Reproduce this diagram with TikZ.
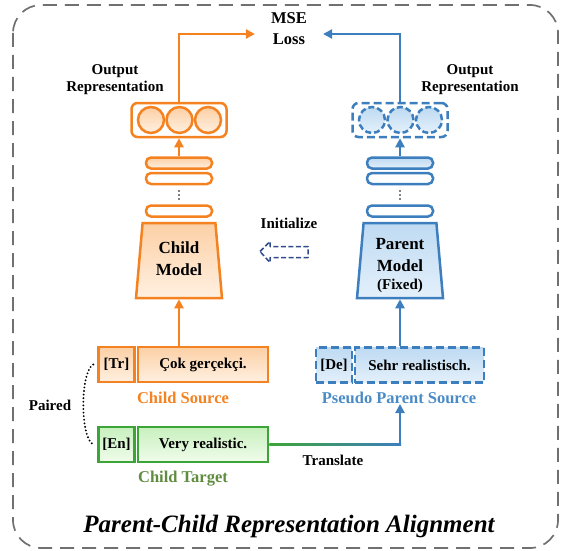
\documentclass[tikz,border=0pt]{standalone}
\usepackage{fontspec}
\setmainfont{Liberation Serif}
\usetikzlibrary{arrows.meta,shapes.geometric,calc}

\definecolor{orgS}{RGB}{245,130,32}
\definecolor{orgD}{RGB}{252,208,165}
\definecolor{orgL}{RGB}{255,240,225}
\definecolor{bluS}{RGB}{60,126,190}
\definecolor{bluD}{RGB}{190,218,242}
\definecolor{bluL}{RGB}{228,240,251}
\definecolor{bluT}{RGB}{74,139,198}
\definecolor{grnS}{RGB}{60,165,55}
\definecolor{grnD}{RGB}{200,240,190}
\definecolor{grnL}{RGB}{240,252,235}
\definecolor{grnT}{RGB}{96,140,64}
\definecolor{initC}{RGB}{47,75,140}
\definecolor{frameC}{RGB}{112,112,112}

\tikzset{
  txt/.style={font=\fontsize{15}{17}\selectfont\bfseries, align=center, inner sep=0pt},
  lbl/.style={font=\fontsize{16.5}{21}\selectfont\bfseries, align=center, inner sep=0pt},
  oline/.style={draw=orgS, line width=2.5pt},
  bline/.style={draw=bluS, line width=2.5pt},
  gline/.style={draw=grnS, line width=2.5pt},
  oarrow/.style={orgS, line width=2.3pt, -{Triangle[length=9pt,width=9pt]}},
  barrow/.style={bluS, line width=2.3pt, -{Triangle[length=9pt,width=9pt]}},
  obar/.style={oline, rounded corners=5pt, minimum width=66pt, minimum height=11pt, inner sep=0pt, fill=white},
  bbar/.style={bline, rounded corners=5pt, minimum width=66pt, minimum height=11pt, inner sep=0pt, fill=white},
  ofill/.style={top color=orgD, bottom color=orgL},
  bfill/.style={top color=bluD, bottom color=bluL},
  gfill/.style={top color=grnD, bottom color=grnL},
  ocirc/.style={circle, oline, ofill, minimum size=26pt, inner sep=0pt},
  bcirc/.style={circle, bline, bfill, dash pattern=on 6pt off 3pt, minimum size=26pt, inner sep=0pt},
  outbox/.style={rounded corners=6pt, minimum width=95pt, minimum height=34pt, inner sep=0pt},
  model/.style={trapezium, trapezium angle=83, trapezium stretches=true,
    minimum width=86pt, minimum height=75pt, inner sep=0pt},
  mtxt/.style={align=center, inner sep=0pt, font=\fontsize{17}{22}\selectfont\bfseries},
  tokbox/.style={minimum height=35pt, inner sep=0pt, font=\fontsize{15}{17}\selectfont\bfseries},
  dsh/.style={dash pattern=on 8pt off 4pt},
  dotmark/.style={circle, fill=black, inner sep=0pt, minimum size=1.7pt},
}

\begin{document}
\begin{tikzpicture}[x=1pt, y=-1pt]
\useasboundingbox (0,0) rectangle (565,551);

% frame
\draw[frameC, line width=1.7pt, dash pattern=on 14pt off 8pt, rounded corners=28pt]
  (13,5) rectangle (558,548);

% loss
\node[lbl, inner xsep=16pt, inner ysep=0pt] (mse) at (289,29) {MSE\\Loss};

% ---- child side ----
\node[txt] (coutlbl) at (115,79.5) {Output\\Representation};
\node[outbox, oline, fill=white] (cout) at (179,120) {};
\node[ocirc] (cc1) at (151,120) {};
\node[ocirc] (cc2) at (179.5,120) {};
\node[ocirc] (cc3) at (208,120) {};
\node[obar, ofill] (cb1) at (179,163) {};
\node[obar] (cb2) at (179,178.5) {};
\node[dotmark] (cd1) at (179,191) {};
\node[dotmark] (cd2) at (179,195) {};
\node[dotmark] (cd3) at (179,199) {};
\node[obar] (cb3) at (179,211) {};
\node[model, oline, ofill] (cm) at (179,260.5) {\phantom{M}};
\node[mtxt] (cmtxt) at (179,259) {Child\\Model};

\node[tokbox, oline, ofill, minimum width=36pt] (tr) at (116.5,364.5) {[Tr]};
\node[tokbox, oline, ofill, minimum width=130pt] (cst) at (203,364.5) {Çok gerçekçi.};
\node[lbl, text=orgS] (cslbl) at (183,398) {Child Source};

\node[tokbox, gline, gfill, minimum width=36pt] (en) at (116.5,444.5) {[En]};
\node[tokbox, gline, gfill, minimum width=130pt] (ctg) at (203,444.5) {Very realistic.};
\node[lbl, text=grnT] (ctlbl) at (183,479) {Child Target};

\node[txt] (paired) at (50,405) {Paired};
\draw[black, line width=2.1pt, dash pattern=on 0pt off 3.6pt, line cap=round]
  ([xshift=-4pt]tr.west) .. controls (80,372) and (80,438) .. ([xshift=-4pt]en.west);

% ---- parent side ----
\node[txt] (poutlbl) at (470,79.5) {Output\\Representation};
\node[outbox, bline, dsh, fill=white] (pout) at (400,120) {};
\node[bcirc] (pc1) at (372,120) {};
\node[bcirc] (pc2) at (400.5,120) {};
\node[bcirc] (pc3) at (429,120) {};
\node[bbar, bfill] (pb1) at (400,163) {};
\node[bbar] (pb2) at (400,178.5) {};
\node[dotmark] (pd1) at (400,191) {};
\node[dotmark] (pd2) at (400,195) {};
\node[dotmark] (pd3) at (400,199) {};
\node[bbar] (pb3) at (400,211) {};
\node[model, bline, bfill] (pm) at (400,260.5) {\phantom{M}};
\node[mtxt] (pmtxt) at (400,266) {Parent\\Model\\[-4pt]{\fontsize{15}{16}\selectfont(Fixed)}};

\node[tokbox, bline, bfill, dsh, minimum width=36pt] (de) at (334,365) {[De]};
\node[tokbox, bline, bfill, dsh, minimum width=129pt] (pst) at (419.5,365) {Sehr realistisch.};
\node[lbl, text=bluT] (pslbl) at (399,398) {Pseudo Parent Source};

% ---- initialize ----
\node[txt] (init) at (289,223) {Initialize};
\coordinate (itip) at (260,251.5);
\draw[initC, line width=1.5pt, dash pattern=on 5pt off 2.5pt, line join=round]
  (itip) -- ++(10,-10) -- ++(0,5) -- ++(38,0) -- ++(0,11) -- ++(-38,0) -- ++(0,5) -- cycle;

% ---- connectors ----
\draw[oarrow] (cout.north) |- ([yshift=-5pt]mse.west);
\draw[barrow] (pout.north) |- ([yshift=-5pt]mse.east);
\draw[oarrow] (cb1.north) -- (cout.south);
\draw[barrow] (pb1.north) -- (pout.south);
\draw[oarrow] (cm.south |- cst.north) -- (cm.south);
\draw[barrow] (pm.south |- pst.north) -- (pm.south);

% translate: green fading into blue along the horizontal run
\coordinate (tcorner) at (pm.south |- ctg.east);
\path[left color=grnS, right color=bluS]
  ([yshift=1.15pt]ctg.east) rectangle ([yshift=-1.15pt,xshift=1.15pt]tcorner);
\draw[barrow] ([yshift=1.15pt]tcorner) -- (tcorner |- pslbl.south);
\node[txt] (trans) at (333,460) {Translate};

% title
\node[font=\fontsize{25}{28}\selectfont\bfseries\itshape, inner sep=0pt] (title) at (289,526) {Parent-Child Representation Alignment};
\end{tikzpicture}
\end{document}
